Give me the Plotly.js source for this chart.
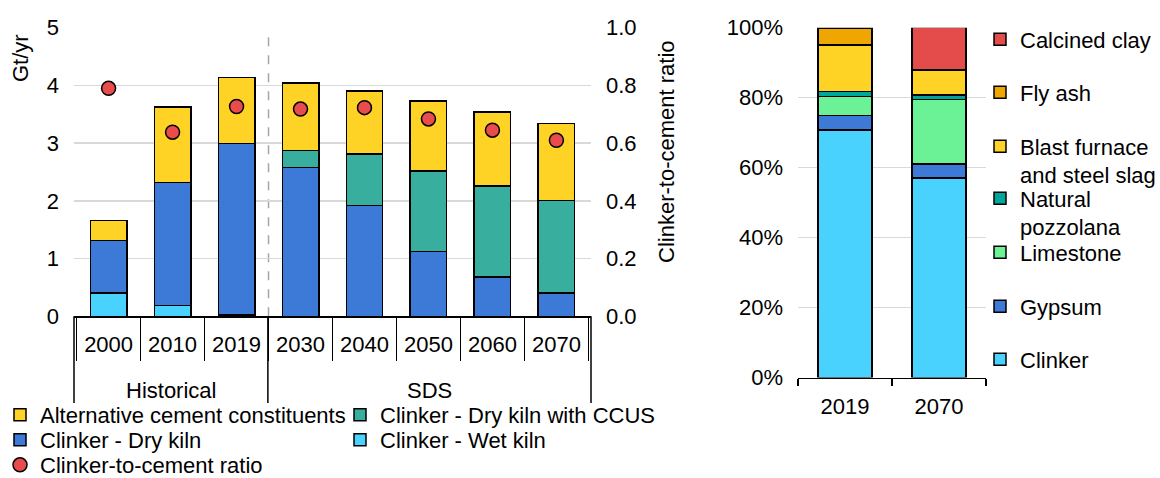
<!DOCTYPE html>
<html>
<head>
<meta charset="utf-8">
<script src="https://cdn.plot.ly/plotly-3.0.1.min.js"></script>
<style>html,body{margin:0;padding:0;background:#fff;}#chart{width:1160px;height:478px;}</style>
</head>
<body>
<div id="chart"></div>
<script>
// ---------- data ----------
const phases = ['Historical','Historical','Historical','SDS','SDS','SDS','SDS','SDS'];
const years = ['2000','2010','2019','2030','2040','2050','2060','2070'];
const wetKiln  = [0.40, 0.19, 0.02, null, null, null, null, null];
const dryKiln  = [0.91, 2.13, 2.97, 2.575, 1.92, 1.12, 0.68, 0.40];
const dryCCUS  = [null, null, null, 0.295, 0.89, 1.40, 1.58, 1.61];
const altConst = [0.35, 1.31, 1.15, 1.17, 1.09, 1.21, 1.28, 1.33];
const clinkerRatio = [0.79, 0.638, 0.727, 0.718, 0.723, 0.684, 0.645, 0.61];

const mixYears = ['2019','2070'];
const clinker   = [70.8, 57.1];
const gypsum    = [4.1, 4.0];
const limestone = [5.4, 18.4];
const pozzolana = [1.4, 1.3];
const slag      = [13.4, 7.1];
const flyAsh    = [4.7, 0.2];
const clay      = [0.2, 11.9];

// ---------- layout helpers ----------
const W = 1160, H = 478;
const fx = v => v / W;
const fy = v => 1 - v / H;
const FONT = 'Liberation Sans, Arial, sans-serif';
const OUT = {color:'#000', width:1.5};
const C = {wet:'#4AD2FF', dry:'#3D79D6', ccus:'#38AE9F', alt:'#FFD325', ratio:'#E84C4C',
           pozz:'#00A69A', lime:'#6CF296', fly:'#F0A600', clay:'#E44C4C'};

// phase groups (Historical / SDS) from the phases array
const groupNames = [...new Set(phases)];
const groups = groupNames.map(g => ({name:g, first:phases.indexOf(g), last:phases.lastIndexOf(g)}));
const n = years.length;
const boundaries = [0].concat(groups.map(g => (g.last + 1) / n));

const traces = [
  {type:'bar', name:'Clinker - Wet kiln', x:years, y:wetKiln, marker:{color:C.wet, line:OUT}, legend:'legend2', legendrank:2},
  {type:'bar', name:'Clinker - Dry kiln', x:years, y:dryKiln, marker:{color:C.dry, line:OUT}, legend:'legend2', legendrank:1},
  {type:'bar', name:'Clinker - Dry kiln with CCUS', x:years, y:dryCCUS, marker:{color:C.ccus, line:OUT}, legend:'legend', legendrank:2},
  {type:'bar', name:'Alternative cement constituents', x:years, y:altConst, marker:{color:C.alt, line:OUT}, legend:'legend', legendrank:1},
  {type:'scatter', mode:'markers', name:'Clinker-to-cement ratio', x:years, y:clinkerRatio, yaxis:'y2',
   marker:{color:C.ratio, size:14, line:OUT}, legend:'legend3'},

  {type:'bar', name:'Clinker', x:mixYears, y:clinker, xaxis:'x2', yaxis:'y3', marker:{color:C.wet, line:OUT}, legend:'legend10'},
  {type:'bar', name:'Gypsum', x:mixYears, y:gypsum, xaxis:'x2', yaxis:'y3', marker:{color:C.dry, line:OUT}, legend:'legend9'},
  {type:'bar', name:'Limestone', x:mixYears, y:limestone, xaxis:'x2', yaxis:'y3', marker:{color:C.lime, line:OUT}, legend:'legend8'},
  {type:'bar', name:'Natural<br>pozzolana', x:mixYears, y:pozzolana, xaxis:'x2', yaxis:'y3', marker:{color:C.pozz, line:OUT}, legend:'legend7'},
  {type:'bar', name:'Blast furnace<br>and steel slag', x:mixYears, y:slag, xaxis:'x2', yaxis:'y3', marker:{color:C.alt, line:OUT}, legend:'legend6'},
  {type:'bar', name:'Fly ash', x:mixYears, y:flyAsh, xaxis:'x2', yaxis:'y3', marker:{color:C.fly, line:OUT}, legend:'legend5'},
  {type:'bar', name:'Calcined clay', x:mixYears, y:clay, xaxis:'x2', yaxis:'y3', marker:{color:C.clay, line:OUT}, legend:'legend4'}
];

const legendBase = {bgcolor:'rgba(0,0,0,0)', borderwidth:0, font:{family:FONT, size:22, color:'#000'},
                    traceorder:'normal', itemclick:false, itemdoubleclick:false, xanchor:'left', yanchor:'top'};
const hLegend = top => Object.assign({}, legendBase, {orientation:'h', x:0, y:fy(top), entrywidth:295, entrywidthmode:'pixels'});
const vLegend = top => Object.assign({}, legendBase, {orientation:'v', x:fx(980), y:fy(top), valign:'top'});

const axFont = {family:FONT, size:22, color:'#000'};

const shapes = [
  {type:'line', xref:'x', yref:'y', x0:groups[0].last + 0.5, x1:groups[0].last + 0.5, y0:0, y1:4.95,
   line:{color:'#A6A6A6', width:1.5, dash:'dash'}, layer:'below'}
].concat(boundaries.map(b => ({type:'line', xref:'x domain', yref:'paper', x0:b, x1:b,
   y0:fy(316.3), y1:fy(403), line:{color:'#000', width:1.5}})));

const annotations = [
  {text:'Gt/yr', xref:'paper', yref:'paper', x:fx(20), y:fy(58), textangle:-90,
   showarrow:false, xanchor:'center', yanchor:'middle', font:axFont},
  {text:'Clinker-to-cement ratio', xref:'paper', yref:'paper', x:fx(667), y:fy(152), textangle:-90,
   showarrow:false, xanchor:'center', yanchor:'middle', font:axFont}
].concat(groups.map(g => ({text:g.name, xref:'x domain', yref:'paper',
   x:(g.first + g.last + 1) / 2 / n, y:fy(390), showarrow:false, xanchor:'center', yanchor:'middle', font:axFont})));

const layout = {
  width:W, height:H,
  margin:{l:0, r:0, t:0, b:0, autoexpand:false},
  paper_bgcolor:'#fff', plot_bgcolor:'rgba(0,0,0,0)',
  font:{family:FONT, size:22, color:'#000'},
  barmode:'stack', bargap:0.43,
  hovermode:false, showlegend:true,
  xaxis:{type:'category', domain:[fx(74), fx(591)], anchor:'y',
         showline:true, linecolor:'#000', linewidth:1.5,
         ticks:'outside', tickson:'boundaries', ticklen:43, tickcolor:'#000', tickwidth:1.5, ticklabelstandoff:8,
         tickfont:axFont, showgrid:false, zeroline:false},
  yaxis:{domain:[fy(316.3), fy(27.7)], anchor:'x', range:[0,5], dtick:1, tick0:0,
         showgrid:true, gridcolor:'#D9D9D9', gridwidth:1.5, zeroline:false, showline:false,
         ticks:'', ticklabelstandoff:14, tickfont:axFont},
  yaxis2:{overlaying:'y', side:'right', anchor:'x', range:[0,1], dtick:0.2, tick0:0, tickformat:'.1f',
          showgrid:false, zeroline:false, showline:false, ticks:'', ticklabelstandoff:14, tickfont:axFont},
  xaxis2:{domain:[fx(798), fx(986)], anchor:'y3', type:'category',
          showline:true, linecolor:'#000', linewidth:1.5,
          ticks:'outside', tickson:'boundaries', ticklen:7, tickcolor:'#000', tickwidth:1.5,
          ticklabelstandoff:8, tickfont:axFont, showgrid:false, zeroline:false},
  yaxis3:{domain:[fy(377.6), fy(27.7)], anchor:'x2', range:[0,100], dtick:20, tick0:0, ticksuffix:'%',
          showgrid:true, gridcolor:'#D9D9D9', gridwidth:1.5, zeroline:false, showline:false,
          ticks:'', ticklabelstandoff:14, tickfont:axFont},
  legend:hLegend(394),
  legend2:hLegend(419),
  legend3:hLegend(444),
  legend4:vLegend(18.5),
  legend5:vLegend(71.5),
  legend6:vLegend(125.5),
  legend7:vLegend(177.5),
  legend8:vLegend(231.5),
  legend9:vLegend(285.5),
  legend10:vLegend(338.5),
  shapes:shapes,
  annotations:annotations
};

Plotly.newPlot('chart', traces, layout, {staticPlot:true, displayModeBar:false});
</script>
</body>
</html>
